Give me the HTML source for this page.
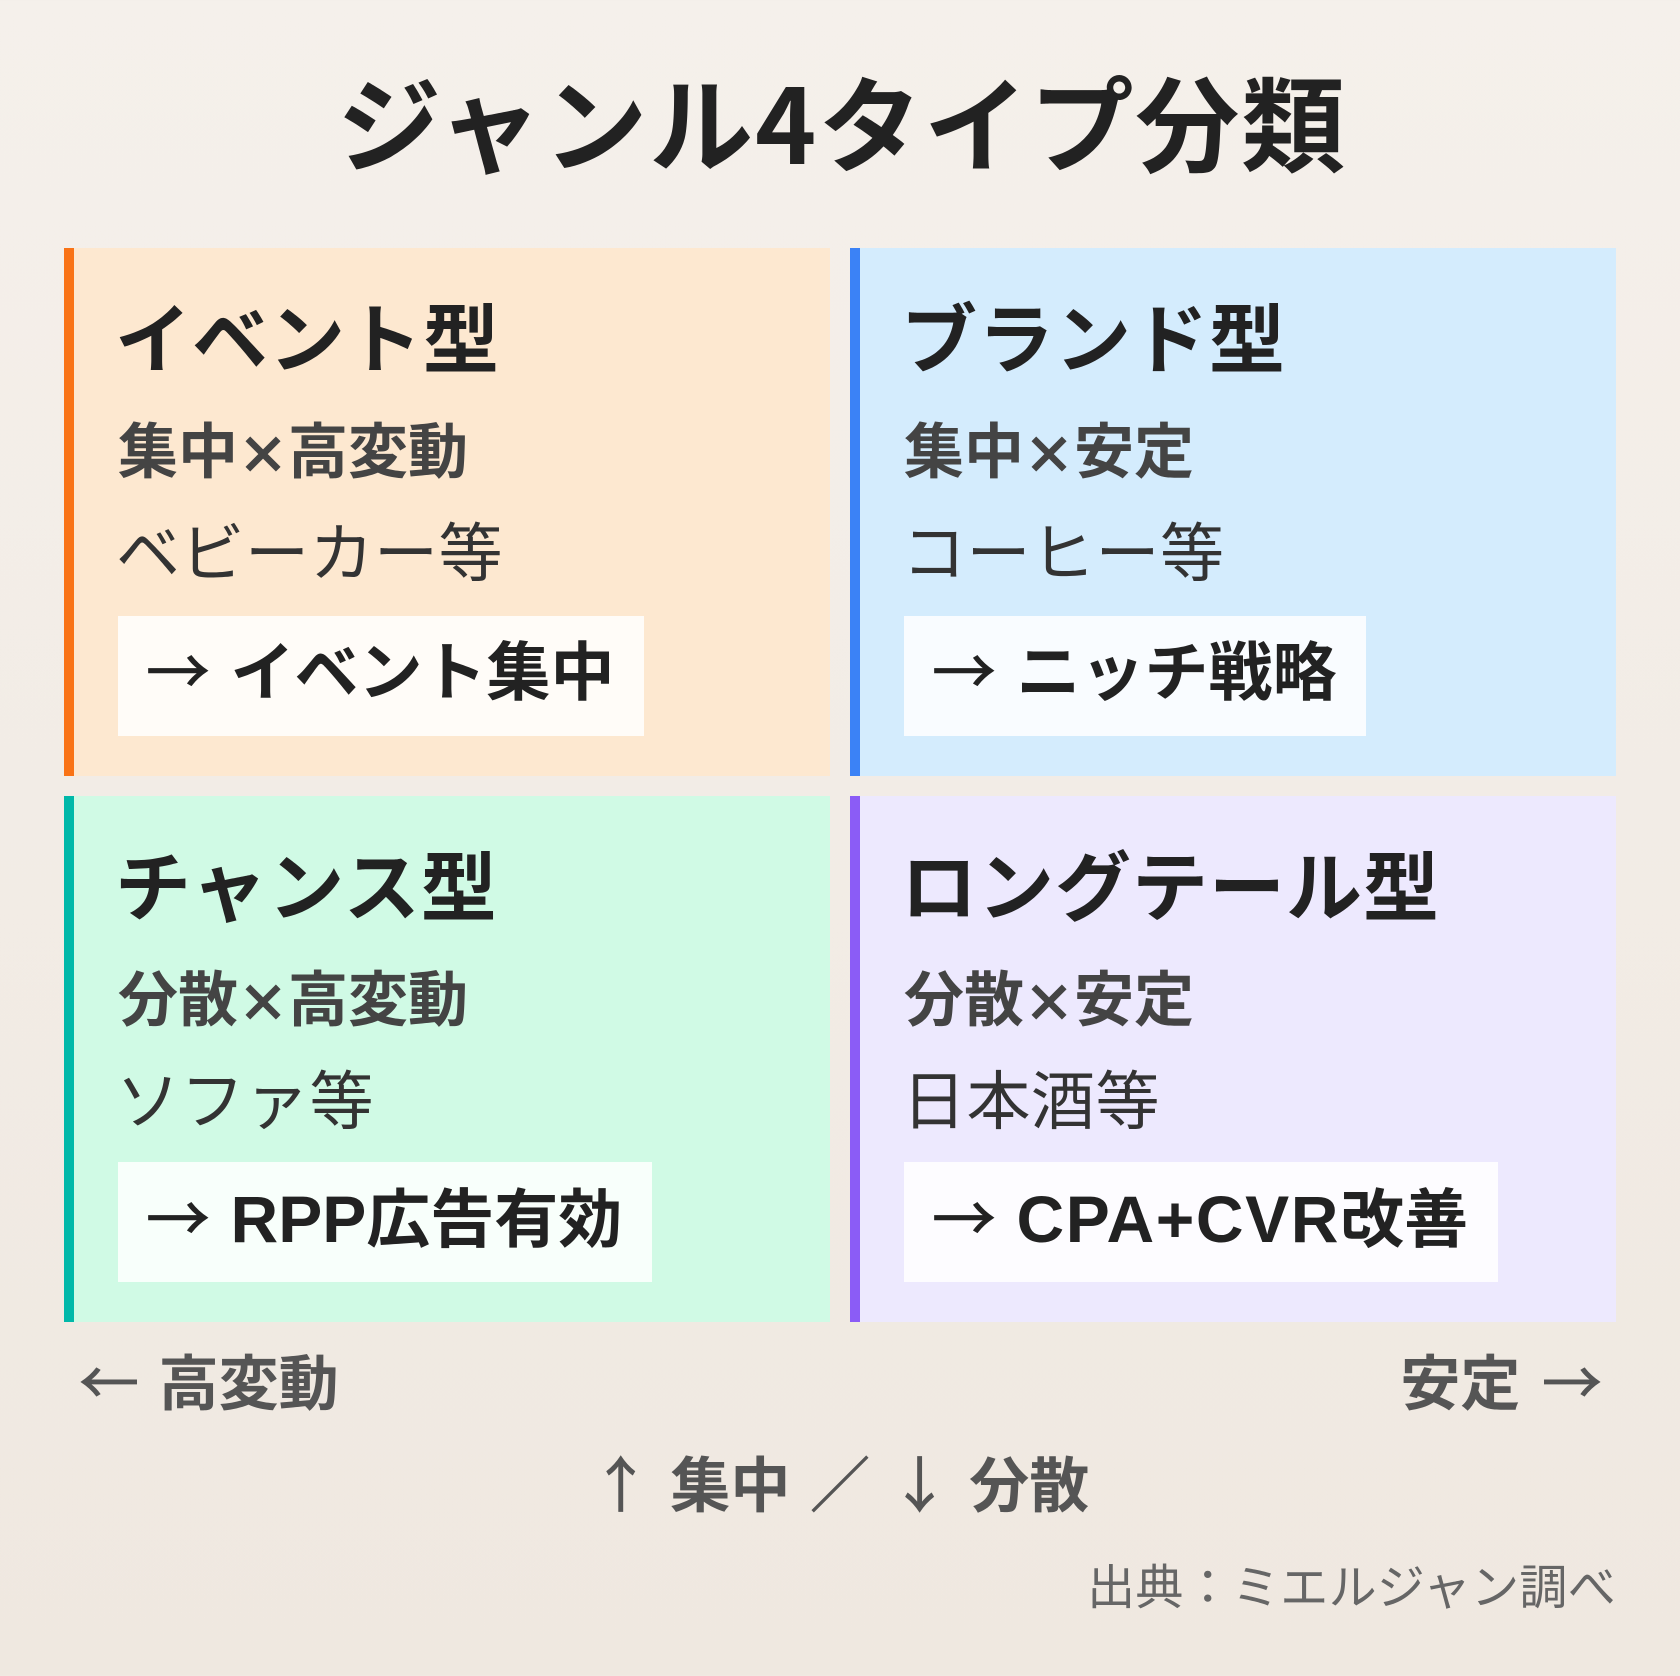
<!DOCTYPE html>
<html lang="ja"><head><meta charset="utf-8"><style>
html,body{margin:0;padding:0}
body{width:1680px;height:1676px;position:relative;overflow:hidden;background:linear-gradient(180deg,#f5f0eb,#efe8e0);font-family:"Noto Sans CJK JP",sans-serif}
.t{position:absolute;line-height:1;white-space:pre}
.card{position:absolute;width:756px;border-left:10px solid}
.box{position:absolute;height:120px;background:rgba(255,255,255,.85)}
.h{font-size:76px;font-weight:700;color:#222;letter-spacing:1px}
.s{font-size:60px;font-weight:700;color:#444}
.s span{font-size:50px;-webkit-text-stroke:1.5px #444}
.i{font-size:64px;color:#333;letter-spacing:.5px}
.b{font-size:64px;font-weight:700;color:#222;word-spacing:6px}
.l{font-size:60px;font-weight:700;color:#555;word-spacing:6px}
.a{font-weight:400;-webkit-text-stroke:.8px currentColor}
.n{font-family:"Liberation Sans",sans-serif;font-size:66px}
</style></head><body>
<div class="t" style="left:2px;width:1680px;text-align:center;top:67px;font-size:104px;font-weight:700;color:#222;letter-spacing:1.75px">ジャンル4タイプ分類</div>

<div class="card" style="left:64px;top:248px;height:528px;background:#fde8d0;border-color:#f97316"></div>
<div class="card" style="left:850px;top:248px;height:528px;background:#d4ecfd;border-color:#3b82f6"></div>
<div class="card" style="left:64px;top:796px;height:526px;background:#d0fae5;border-color:#00b8a9"></div>
<div class="card" style="left:850px;top:796px;height:526px;background:#ede9fe;border-color:#8b5cf6"></div>

<div class="t h" style="left:115px;top:296px">イベント型</div>
<div class="t s" style="left:118px;top:418px">集中<span>×</span>高変動</div>
<div class="t i" style="left:116px;top:517px">ベビーカー等</div>
<div class="box" style="left:118px;top:616px;width:526px"></div>
<div class="t b" style="left:146px;top:636px"><span class="a">→</span> イベント集中</div>

<div class="t h" style="left:901px;top:296px">ブランド型</div>
<div class="t s" style="left:904px;top:418px">集中<span>×</span>安定</div>
<div class="t i" style="left:902px;top:517px">コーヒー等</div>
<div class="box" style="left:904px;top:616px;width:462px"></div>
<div class="t b" style="left:932px;top:636px"><span class="a">→</span> ニッチ戦略</div>

<div class="t h" style="left:115px;top:844px">チャンス型</div>
<div class="t s" style="left:118px;top:966px">分散<span>×</span>高変動</div>
<div class="t i" style="left:116px;top:1065px">ソファ等</div>
<div class="box" style="left:118px;top:1162px;width:534px"></div>
<div class="t b" style="left:146px;top:1183px"><span class="a">→</span> <span class="n">RPP</span>広告有効</div>

<div class="t h" style="left:901px;top:844px">ロングテール型</div>
<div class="t s" style="left:904px;top:966px">分散<span>×</span>安定</div>
<div class="t i" style="left:902px;top:1065px">日本酒等</div>
<div class="box" style="left:904px;top:1162px;width:594px"></div>
<div class="t b" style="left:932px;top:1183px"><span class="a">→</span> <span class="n" style="letter-spacing:1.6px">CPA+CVR</span>改善</div>

<div class="t l" style="left:79px;top:1350px"><span class="a">←</span> 高変動</div>
<div class="t l" style="right:78px;top:1350px;word-spacing:8px">安定 <span class="a">→</span></div>
<div class="t l" style="left:0;width:1680px;text-align:center;top:1452px"><span class="a">↑</span> 集中 <span class="a">／</span> <span class="a">↓</span> 分散</div>
<div class="t" style="right:64px;top:1559px;font-size:48px;color:#666;letter-spacing:.3px">出典：ミエルジャン調べ</div>
</body></html>
